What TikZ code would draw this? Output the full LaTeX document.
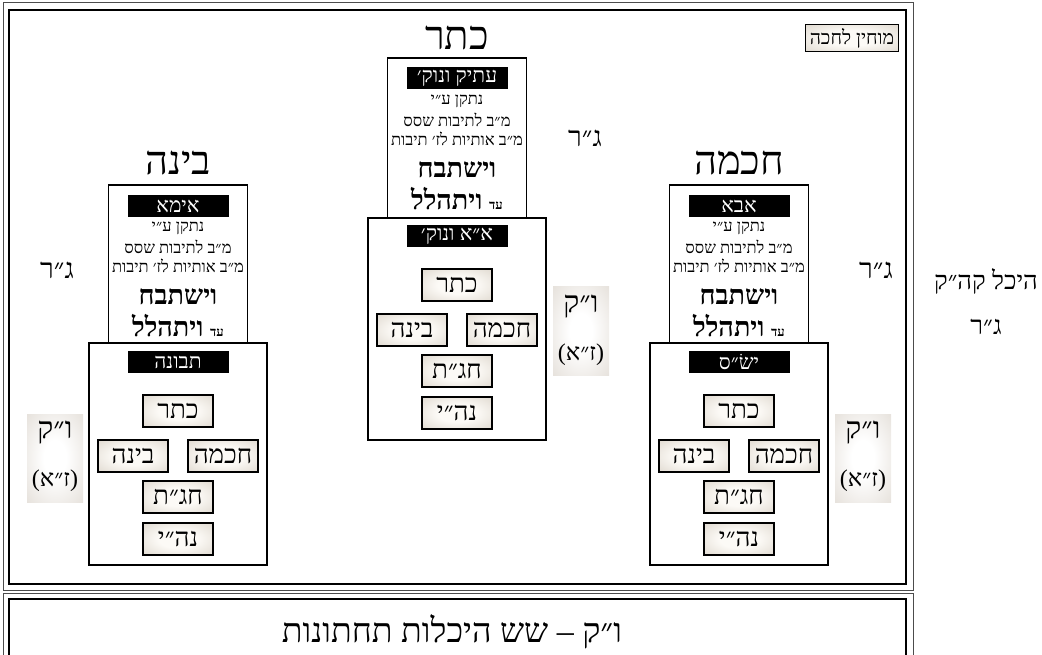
\documentclass[tikz,border=0pt]{standalone}
\usepackage{fontspec}
\newfontfamily\hebfont[Script=Hebrew]{Liberation Serif}
\TeXXeTstate=1
\def\heb#1{{\hebfont\beginR #1\endR}}
\definecolor{cellin}{RGB}{252,250,246}
\definecolor{cellout}{RGB}{200,190,176}
\definecolor{sideout}{RGB}{212,204,194}
\pgfdeclareradialshading{cellshade}{\pgfpoint{0bp}{0bp}}{color(0bp)=(cellin); color(14bp)=(cellin); color(55bp)=(cellout); color(75bp)=(cellout)}
\pgfdeclareradialshading{sideshade}{\pgfpoint{0bp}{0bp}}{color(0bp)=(white); color(10bp)=(white); color(55bp)=(sideout); color(75bp)=(sideout)}
\tikzset{
	cellbox/.style={draw, line width=1.4pt, shading=cellshade, minimum width=70, minimum height=32, inner sep=0pt, font=\fontsize{26}{28}\selectfont},
	namebar/.style={fill=black, text=white, minimum width=101, minimum height=22, inner sep=0pt, font=\fontsize{21}{23}\selectfont},
	crownbox/.style={draw, line width=1.5pt, minimum width=139, inner sep=0pt},
	vesselbox/.style={draw, line width=1.5pt, minimum width=178, minimum height=222, inner sep=0pt},
	rashiline/.style={inner sep=0pt, font=\fontsize{16.5}{18}\selectfont},
	praise/.style={inner sep=0pt, font=\fontsize{27}{29}\selectfont\bfseries},
	bigtitle/.style={inner sep=0pt, font=\fontsize{40}{42}\selectfont},
	grlabel/.style={inner sep=0pt, font=\fontsize{28}{30}\selectfont},
	sidebox/.style={shading=sideshade, minimum width=56, minimum height=88, inner sep=0pt},
}
\begin{document}
\begin{tikzpicture}[x=1pt, y=-1pt]
			%%%%% START %%%%%
			\useasboundingbox (0,0) rectangle (1042,655);
			\clip (0,0) rectangle (1042,655);
			
			% frames
			\draw[line width=1pt, black!70] (3,3) rectangle (913,590);
			\draw[line width=1.5pt] (9,10) rectangle (906,584);
			\draw[line width=1pt, black!70] (3,593) rectangle (913,675);
			\draw[line width=1.5pt] (9,599) rectangle (906,668);
			
			\node[draw, line width=1.2pt, shading=cellshade, minimum width=93, minimum height=27, inner sep=0pt, font=\fontsize{19.5}{21}\selectfont] (mochin) at (852,38) {\heb{מוחין לחכה}};
			
			% keter
			\node[bigtitle] (kettitle) at (457,38) {\heb{כתר}};
			\node[crownbox, minimum height=160] (atikbox) at (457,138) {};
			\node[namebar] (atikname) at (457,78) {\heb{עתיק ונוק׳}};
			\node[rashiline] (atikla) at (457,101) {\heb{נתקן ע״י}};
			\node[rashiline] (atiklb) at (457,120) {\heb{מ״ב לתיבות שסס}};
			\node[rashiline] (atiklc) at (457,139) {\heb{מ״ב אותיות לז׳ תיבות}};
			\node[praise] (atikpa) at (457,170) {\heb{וישתבח}};
			\node[praise] (atikpb) at (457,199) {\heb{{\fontsize{13}{14}\selectfont עד} ויתהלל}};
			\node[vesselbox] (aabox) at (457,329) {};
			\node[namebar] (aaname) at (457,236) {\heb{א״א ונוק׳}};
			\node[cellbox] (aaketer) at (457,285) {\heb{כתר}};
			\node[cellbox] (aabina) at (412,330) {\heb{בינה}};
			\node[cellbox] (aachochma) at (502,330) {\heb{חכמה}};
			\node[cellbox] (aachagat) at (457,371) {\heb{חג״ת}};
			\node[cellbox] (aanehi) at (457,413) {\heb{נה״י}};
			\node[grlabel] (aagr) at (585,138) {\heb{ג״ר}};
			\node[sidebox] (aavk) at (581,331) {};
			\node[grlabel, font=\fontsize{30}{32}\selectfont] (aavka) at (581,307) {\heb{ו״ק}};
			\node[grlabel, font=\fontsize{24}{26}\selectfont] (aavkb) at (581,355) {\heb{(ז״א)}};
			
			% bina
			\node[bigtitle] (binatitle) at (178,163) {\heb{בינה}};
			\node[crownbox, minimum height=158] (imabox) at (178,264) {};
			\node[namebar] (imaname) at (178,206) {\heb{אימא}};
			\node[rashiline] (imala) at (178,228) {\heb{נתקן ע״י}};
			\node[rashiline] (imalb) at (178,247) {\heb{מ״ב לתיבות שסס}};
			\node[rashiline] (imalc) at (178,266) {\heb{מ״ב אותיות לז׳ תיבות}};
			\node[praise] (imapa) at (178,297) {\heb{וישתבח}};
			\node[praise] (imapb) at (178,326) {\heb{{\fontsize{13}{14}\selectfont עד} ויתהלל}};
			\node[vesselbox] (tvunabox) at (178,454) {};
			\node[namebar] (tvunaname) at (178,362) {\heb{תבונה}};
			\node[cellbox] (tvunaketer) at (178,411) {\heb{כתר}};
			\node[cellbox] (tvunabina) at (133,456) {\heb{בינה}};
			\node[cellbox] (tvunachochma) at (223,456) {\heb{חכמה}};
			\node[cellbox] (tvunachagat) at (178,497) {\heb{חג״ת}};
			\node[cellbox] (tvunanehi) at (178,539) {\heb{נה״י}};
			\node[grlabel] (imagr) at (57,270) {\heb{ג״ר}};
			\node[sidebox] (tvunavk) at (55,458) {};
			\node[grlabel, font=\fontsize{30}{32}\selectfont] (tvunavka) at (55,433) {\heb{ו״ק}};
			\node[grlabel, font=\fontsize{24}{26}\selectfont] (tvunavkb) at (55,481) {\heb{(ז״א)}};
			
			% chochma
			\node[bigtitle] (chochmatitle) at (739,163) {\heb{חכמה}};
			\node[crownbox, minimum height=158] (abbabox) at (739,264) {};
			\node[namebar] (abbaname) at (739,206) {\heb{אבא}};
			\node[rashiline] (abbala) at (739,228) {\heb{נתקן ע״י}};
			\node[rashiline] (abbalb) at (739,247) {\heb{מ״ב לתיבות שסס}};
			\node[rashiline] (abbalc) at (739,266) {\heb{מ״ב אותיות לז׳ תיבות}};
			\node[praise] (abbapa) at (739,297) {\heb{וישתבח}};
			\node[praise] (abbapb) at (739,326) {\heb{{\fontsize{13}{14}\selectfont עד} ויתהלל}};
			\node[vesselbox] (yisasbox) at (739,454) {};
			\node[namebar] (yisasname) at (739,362) {\heb{ישׂ״ס}};
			\node[cellbox] (yisasketer) at (739,411) {\heb{כתר}};
			\node[cellbox] (yisasbina) at (694,456) {\heb{בינה}};
			\node[cellbox] (yisaschochma) at (784,456) {\heb{חכמה}};
			\node[cellbox] (yisaschagat) at (739,497) {\heb{חג״ת}};
			\node[cellbox] (yisasnehi) at (739,539) {\heb{נה״י}};
			\node[grlabel] (abbagr) at (876,270) {\heb{ג״ר}};
			\node[sidebox] (yisasvk) at (863,458) {};
			\node[grlabel, font=\fontsize{30}{32}\selectfont] (yisasvka) at (863,433) {\heb{ו״ק}};
			\node[grlabel, font=\fontsize{24}{26}\selectfont] (yisasvkb) at (863,481) {\heb{(ז״א)}};
			
			% outside
			\node[grlabel, font=\fontsize{25.5}{27}\selectfont] (heichal) at (986,281) {\heb{היכל קה״ק}};
			\node[grlabel, font=\fontsize{26}{28}\selectfont] (heichalgr) at (986,327) {\heb{ג״ר}};
			\node[grlabel, font=\fontsize{34}{36}\selectfont] (lower) at (452,632) {\heb{ו״ק – שש היכלות תחתונות}};
			
			%%%%% END %%%%%
\end{tikzpicture}
\end{document}
